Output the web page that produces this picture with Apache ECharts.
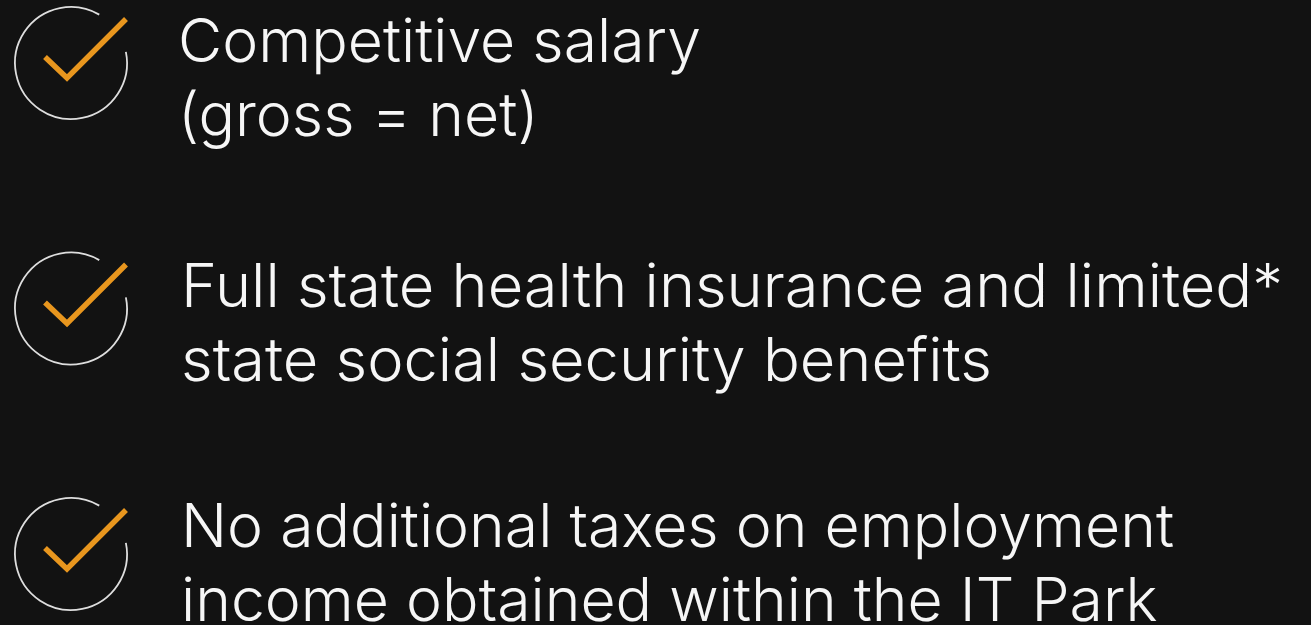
<!DOCTYPE html>
<html>
<head>
<meta charset="utf-8">
<style>
html, body { margin: 0; padding: 0; background: #121212; }
#main { width: 1311px; height: 625px; }
</style>
<script src="https://cdn.jsdelivr.net/npm/echarts@6/dist/echarts.min.js"></script>
</head>
<body>
<div id="main"></div>
<script>
var rows = [0, 1, 2];
var firstLines = ['Competitive salary', 'Full state health insurance and limited*', 'No additional taxes on employment'];
var secondLines = ['(gross = net)', 'state social security benefits', 'income obtained within the IT Park'];

var chart = echarts.init(document.getElementById('main'));

// text sits a little differently against the icon in each row
var textX = [178, 181, 181];
var textDy = [-19, -20, -25];
var textScale = [1.012, 1.022, 1.012];

function textLine(str, i, y) {
	return {
		type: 'text',
		x: textX[i],
		y: y,
		scaleX: textScale[i],
		style: { x: 0, y: 0, text: str, font: '300 60px Inter', fill: '#f6f6f6', textVerticalAlign: 'middle' }
	};
}

function renderRow(params, api) {
	var i = api.value(1);
	var c = api.coord([api.value(0), i]);
	var cx = c[0];
	var cy = c[1];
	return {
		type: 'group',
		children: [
			{
				type: 'arc',
				shape: { cx: cx, cy: cy, r: 56, startAngle: -11.5 * Math.PI / 180, endAngle: -59.7 * Math.PI / 180, clockwise: true },
				style: { fill: null, stroke: '#dedede', lineWidth: 1.8 }
			},
			{
				type: 'polyline',
				shape: { points: [[cx - 26, cy - 6], [cx - 4, cy + 15], [cx + 55, cy - 44]] },
				style: { fill: null, stroke: '#e8961e', lineWidth: 5.5 }
			},
			textLine(firstLines[i], i, cy + textDy[i]),
			textLine(secondLines[i], i, cy + textDy[i] + 74)
		]
	};
}

chart.setOption({
	backgroundColor: '#121212',
	animation: false,
	grid: { left: 0, right: 0, top: 0, bottom: 0 },
	xAxis: { type: 'value', min: -71, max: 1240, show: false },
	// one row is 245.5px tall, first icon centre at y=63
	yAxis: { type: 'value', min: -0.2566, max: 2.2892, inverse: true, show: false },
	series: [{
		type: 'custom',
		renderItem: renderRow,
		clip: false,
		encode: { x: 0, y: 1 },
		data: rows.map(function (r) { return [0, r]; })
	}]
});
</script>
</body>
</html>
